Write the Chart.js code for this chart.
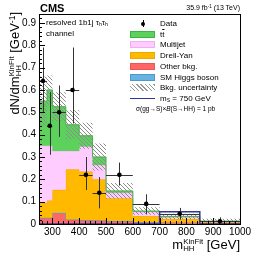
<!DOCTYPE html>
<html>
<head>
<meta charset="utf-8">
<script src="https://cdn.jsdelivr.net/npm/chart.js@4.4.0/dist/chart.umd.min.js"></script>
<style>
  body { margin: 0; background: #fff; }
  #wrap { position: relative; width: 266px; height: 255px; font-family: "Liberation Sans", Arial, sans-serif; color: #000; overflow: hidden; }
  canvas { position: absolute; left: 0; top: 0; }
  .t { position: absolute; white-space: nowrap; line-height: 1; }
  .ss { display: inline-block; vertical-align: -0.3em; font-size: 0.6em; line-height: 0.95; text-align: left; }
  .ss span { display: block; }
  sup { font-size: 0.65em; vertical-align: 0.45em; line-height: 0; }
  sub { font-size: 0.65em; vertical-align: -0.25em; line-height: 0; }
  .ytitle { left: 7px; top: 212px; width: 200px; height: 16px; line-height: 16px; text-align: right; font-size: 13px; transform-origin: 0 0; transform: rotate(-90deg); }
  .mk { position: absolute; left: 130px; width: 25px; height: 7px; box-sizing: border-box; }
  .lt { position: absolute; left: 160px; font-size: 8px; line-height: 1; white-space: nowrap; }
</style>
</head>
<body>
<div id="wrap">
  <canvas id="c" width="266" height="255"></canvas>

  <div class="t" style="left:40px;top:3px;font-weight:bold;font-size:11px;">CMS</div>
  <div class="t" style="right:26px;top:4px;font-size:7px;">35.9 fb<sup>-1</sup> (13 TeV)</div>
  <div class="t ytitle">dN/dm<span class="ss"><span>KinFit</span><span>HH</span></span> [GeV<sup>-1</sup>]</div>
  <div class="t" style="right:26px;top:238px;font-size:13px;">m<span class="ss"><span>KinFit</span><span>HH</span></span> [GeV]</div>

  <div class="t" style="left:46px;top:19px;font-size:8px;">resolved 1b1j &tau;<sub>h</sub>&tau;<sub>h</sub></div>
  <div class="t" style="left:46px;top:30px;font-size:8px;">channel</div>

  <!-- legend -->
  <div style="position:absolute;left:141px;top:21.5px;width:4px;height:4px;border-radius:50%;background:#000;"></div>
  <div style="position:absolute;left:142.5px;top:20px;width:1px;height:7px;background:#000;"></div>
  <div class="lt" style="top:20px;">Data</div>

  <div class="mk" style="top:30.7px;background:#5cd25c;border:1px solid #3fb33f;"></div>
  <div class="lt" style="top:30.7px;">t<span style="text-decoration:overline;">t</span></div>

  <div class="mk" style="top:41.4px;background:#ffccff;border:1px solid #f0b0f0;"></div>
  <div class="lt" style="top:41.4px;">Multijet</div>

  <div class="mk" style="top:52.1px;background:#ffba00;border:1px solid #f0a800;"></div>
  <div class="lt" style="top:52.1px;">Drell-Yan</div>

  <div class="mk" style="top:62.8px;background:#ff6666;border:1px solid #ee5555;"></div>
  <div class="lt" style="top:62.8px;">Other bkg.</div>

  <div class="mk" style="top:73.5px;background:#66b2e0;border:1px solid #4a9ad0;"></div>
  <div class="lt" style="top:73.5px;">SM Higgs boson</div>

  <div class="mk" style="top:84.2px;background:repeating-linear-gradient(45deg,#999 0 1px,transparent 1px 3px);"></div>
  <div class="lt" style="top:84.2px;">Bkg. uncertainty</div>

  <div style="position:absolute;left:130px;top:97.6px;width:25px;height:1.5px;background:#33339a;"></div>
  <div class="lt" style="top:94.9px;">m<sub>S</sub> = 750 GeV</div>

  <div class="t" style="left:136px;top:106px;font-size:6.5px;">&sigma;(gg&rarr;S)&times;<i>B</i>(S&rarr;HH) = 1 pb</div>
</div>

<script>
// bins in m_HH^KinFit [GeV]
const binEdges = [250, 280, 300, 350, 400, 450, 500, 600, 700, 850, 1000];

// background components per bin [GeV^-1]
const otherBkg = [0.026, 0.026, 0.048, 0.018, 0.016, 0.015, 0.012, 0.008, 0.006, 0.004];
const smHiggs  = [0.002, 0.002, 0.002, 0.002, 0.002, 0.002, 0.001, 0.001, 0.001, 0.001];
const drellYan = [0.067, 0.077, 0.103, 0.225, 0.217, 0.183, 0.102, 0.027, 0.015, 0.004];
const multijet = [0.255, 0.245, 0.174, 0.082, 0.112, 0.064, 0.025, 0.018, 0.008, 0.002];
const ttbar    = [0.200, 0.250, 0.198, 0.117, 0.048, 0.036, 0.008, 0.004, 0.004, 0.002];
const bkgUnc   = [0.110, 0.065, 0.065, 0.065, 0.058, 0.060, 0.035, 0.017, 0.012, 0.010];

// signal m_S = 750 GeV
const signal750 = [0, 0, 0, 0, 0, 0, 0, 0, 0.055, 0];

// observed data with error bars
const dataVal = [0.64, 0.44, 0.50, 0.60, 0.22, 0.14, 0.22, 0.09, 0.046, 0.012];
const dataLo  = [0.50, 0.31, 0.39, 0.45, 0.152, 0.07, 0.172, 0.045, 0.02, 0.003];
const dataHi  = [0.79, 0.59, 0.62, 0.79, 0.30, 0.21, 0.275, 0.133, 0.072, 0.03];

const yMajor = [0, 0.1, 0.2, 0.3, 0.4, 0.5, 0.6, 0.7, 0.8, 0.9];
const xMajor = [300, 400, 500, 600, 700, 800, 900, 1000];

// cumulative stack
function addArr(a, b) { return a.map((v, i) => v + b[i]); }
const cumOther = otherBkg.slice();
const cumHiggs = addArr(cumOther, smHiggs);
const cumDY = addArr(cumHiggs, drellYan);
const cumMJ = addArr(cumDY, multijet);
const cumTT = addArr(cumMJ, ttbar);
const uncLo = cumTT.map((v, i) => Math.max(0, v - bkgUnc[i]));
const uncHi = cumTT.map((v, i) => v + bkgUnc[i]);

// histogram as stepped line: one point per left edge + closing point
function steps(vals) {
  return binEdges.map((x, i) => ({ x: x, y: vals[Math.min(i, vals.length - 1)] }));
}

// hatch pattern for the uncertainty band
function hatch() {
  const c = document.createElement('canvas');
  c.width = 4; c.height = 4;
  const g = c.getContext('2d');
  g.strokeStyle = '#8c8c8c';
  g.lineWidth = 1;
  g.beginPath();
  g.moveTo(0, 0); g.lineTo(4, 4);
  g.moveTo(-1, 3); g.lineTo(1, 5);
  g.moveTo(3, -1); g.lineTo(5, 1);
  g.stroke();
  return g.createPattern(c, 'repeat');
}

function histDs(label, vals, fillCol, lineCol, fill, order) {
  return {
    label: label,
    data: steps(vals),
    stepped: 'before',
    fill: fill,
    backgroundColor: fillCol,
    borderColor: lineCol,
    borderWidth: 1,
    pointRadius: 0,
    order: order
  };
}

const rootStyle = {
  id: 'rootStyle',
  beforeDatasetDraw(chart, args) {
    if (args.index !== 8) return;
    const x = chart.scales.x, y = chart.scales.y, ctx = chart.ctx;
    ctx.save();
    ctx.strokeStyle = '#333';
    ctx.lineWidth = 1;
    ctx.beginPath();
    dataVal.forEach((v, i) => {
      const cx = Math.round(x.getPixelForValue((binEdges[i] + binEdges[i + 1]) / 2)) + 0.5;
      const cy = Math.round(y.getPixelForValue(v)) + 0.5;
      ctx.moveTo(cx, y.getPixelForValue(dataHi[i]));
      ctx.lineTo(cx, y.getPixelForValue(dataLo[i]));
      ctx.moveTo(x.getPixelForValue(binEdges[i]), cy);
      ctx.lineTo(x.getPixelForValue(binEdges[i + 1]), cy);
    });
    ctx.stroke();
    ctx.restore();
  },
  afterDatasetsDraw(chart) {
    const x = chart.scales.x, y = chart.scales.y, ctx = chart.ctx;
    const a = chart.chartArea;
    ctx.save();
    ctx.strokeStyle = '#000';
    ctx.lineWidth = 1;
    ctx.beginPath();
    // y ticks (inside)
    for (let v = 0; v <= 0.94 + 1e-9; v += 0.02) {
      const py = Math.round(y.getPixelForValue(v)) + 0.5;
      const major = Math.abs(v * 10 - Math.round(v * 10)) < 1e-6;
      ctx.moveTo(a.left, py);
      ctx.lineTo(a.left + (major ? 6 : 3), py);
    }
    // x ticks (inside)
    for (let v = 260; v < 1000; v += 20) {
      const px = Math.round(x.getPixelForValue(v)) + 0.5;
      const major = v % 100 === 0;
      ctx.moveTo(px, a.bottom);
      ctx.lineTo(px, a.bottom - (major ? 6 : 3));
    }
    ctx.stroke();
    ctx.strokeRect(Math.round(a.left) + 0.5, Math.round(a.top) + 0.5,
      Math.round(a.right - a.left), Math.round(a.bottom - a.top));
    ctx.restore();
  }
};

const tickFont = { family: '"Liberation Sans", Arial, sans-serif', size: 10 };

new Chart(document.getElementById('c'), {
  type: 'line',
  data: {
    datasets: [
      histDs('Other bkg.', cumOther, '#ff6666', '#ee5555', 'origin', 20),
      histDs('SM Higgs boson', cumHiggs, '#66b2e0', '#4a9ad0', '-1', 19),
      histDs('Drell-Yan', cumDY, '#ffba00', '#f0a800', '-1', 18),
      histDs('Multijet', cumMJ, '#ffccff', '#f0b0f0', '-1', 17),
      histDs('ttbar', cumTT, '#5cd25c', '#3fb33f', '-1', 16),
      {
        label: 'unc low', data: steps(uncLo), stepped: 'before', fill: false,
        borderWidth: 0, borderColor: 'rgba(0,0,0,0)', pointRadius: 0, order: 15
      },
      {
        label: 'Bkg. uncertainty', data: steps(uncHi), stepped: 'before', fill: '-1',
        backgroundColor: hatch(), borderWidth: 0, borderColor: 'rgba(0,0,0,0)', pointRadius: 0, order: 14
      },
      {
        label: 'm_S = 750 GeV', data: steps(signal750), stepped: 'before', fill: false,
        borderColor: '#33339a', borderWidth: 1.5, pointRadius: 0, order: 5
      },
      {
        label: 'Data',
        data: dataVal.map((v, i) => ({ x: (binEdges[i] + binEdges[i + 1]) / 2, y: v })),
        showLine: false, pointRadius: 2.3, pointBackgroundColor: '#000', pointBorderWidth: 0,
        borderColor: '#000', order: 1
      }
    ]
  },
  options: {
    responsive: false,
    animation: false,
    events: [],
    devicePixelRatio: 1,
    layout: { padding: { top: 14, right: 26, left: 0, bottom: 0 } },
    plugins: { legend: { display: false }, tooltip: { enabled: false } },
    scales: {
      x: {
        type: 'linear', min: 250, max: 1000,
        grid: { display: false, drawTicks: false }, border: { display: false },
        afterFit(s) { s.height = 31; },
        ticks: {
          stepSize: 100, includeBounds: false, padding: 2, color: '#000', font: tickFont,
          maxRotation: 0, autoSkip: false,
          callback: v => xMajor.includes(v) ? String(v) : ''
        }
      },
      y: {
        min: 0, max: 0.94,
        grid: { display: false, drawTicks: false }, border: { display: false },
        afterFit(s) { s.width = 39; },
        ticks: {
          stepSize: 0.1, includeBounds: false, padding: 3, color: '#000', font: tickFont,
          callback: v => {
            const m = yMajor.find(t => Math.abs(t - v) < 1e-6);
            return m === undefined ? '' : (m === 0 ? '0' : m.toFixed(1));
          }
        }
      }
    }
  },
  plugins: [rootStyle]
});
</script>
</body>
</html>
